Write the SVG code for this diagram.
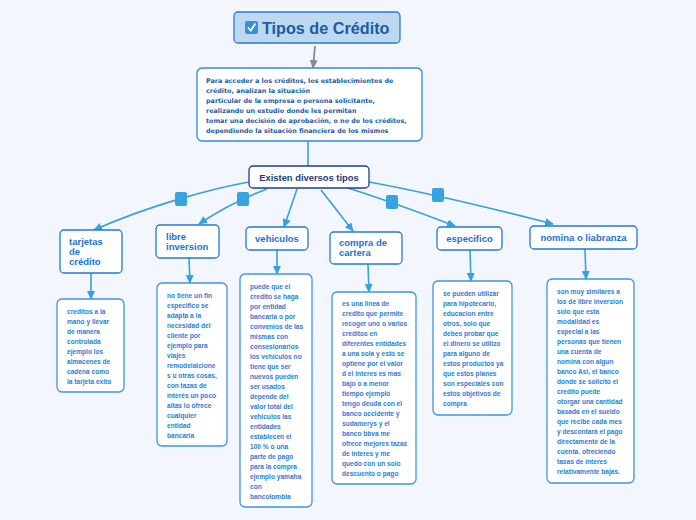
<svg xmlns="http://www.w3.org/2000/svg" width="696" height="520" viewBox="0 0 696 520">
<defs>
<style>
text{font-family:"Liberation Sans",Arial,sans-serif;font-weight:bold}
.cat{fill:#fff;stroke:#1f7ad6;stroke-width:1.3}
.desc{fill:#fff;stroke:#3c95e2;stroke-width:1.3}
.catt{font-size:9.5px;fill:#1a72d6}
.dt{font-size:6.6px;fill:#2c7dd8}
.con{fill:none;stroke:#35a2de;stroke-width:1.6}
.sq{fill:#35a4e0}
</style>
<marker id="ah" markerWidth="9" markerHeight="8" refX="8" refY="4" orient="auto" markerUnits="userSpaceOnUse">
<path d="M0,0 L9,4 L0,8 z" fill="#35a2de"/>
</marker>
<marker id="ahg" markerWidth="9" markerHeight="8" refX="8" refY="4" orient="auto" markerUnits="userSpaceOnUse">
<path d="M0,0 L9,4 L0,8 z" fill="#8a8a8a"/>
</marker>
</defs>
<rect width="696" height="520" fill="#f3f6fd"/>

<g id="connectors">
<line x1="315" y1="46" x2="313" y2="68" stroke="#8a8a8a" stroke-width="1.8" marker-end="url(#ahg)"/>
<line x1="308" y1="141" x2="308" y2="166" class="con"/>
<path class="con" d="M249,182 C215,188 150,205 94,230" marker-end="url(#ah)"/>
<path class="con" d="M267,189 Q230,203 199,224" marker-end="url(#ah)"/>
<path class="con" d="M297,189 L284,227" marker-end="url(#ah)"/>
<path class="con" d="M321,190 L353,231" marker-end="url(#ah)"/>
<path class="con" d="M348,188 Q395,203 455,226" marker-end="url(#ah)"/>
<path class="con" d="M369,182 Q440,195 553,224" marker-end="url(#ah)"/>
<rect class="sq" x="175" y="192" width="12" height="14" rx="2"/>
<rect class="sq" x="237" y="192" width="12" height="14" rx="2"/>
<rect class="sq" x="386" y="195" width="12" height="14" rx="2"/>
<rect class="sq" x="432" y="188" width="12" height="14" rx="2"/>
<line class="con" x1="91" y1="273" x2="91" y2="299" marker-end="url(#ah)"/>
<line class="con" x1="189" y1="258" x2="190" y2="283" marker-end="url(#ah)"/>
<line class="con" x1="277" y1="250" x2="277" y2="274" marker-end="url(#ah)"/>
<line class="con" x1="368" y1="264" x2="369" y2="292" marker-end="url(#ah)"/>
<line class="con" x1="470" y1="250" x2="471" y2="281" marker-end="url(#ah)"/>
<line class="con" x1="585" y1="249" x2="586" y2="279" marker-end="url(#ah)"/>
</g>

<g id="title">
<rect x="234" y="12" width="166" height="31" rx="4" fill="#bdd9f1" stroke="#2b7bc4" stroke-width="1.3"/>
<rect x="245" y="21" width="13" height="13" rx="2" fill="#3b8fd9"/>
<polyline points="248,27.5 250.8,30.5 255.5,23.5" fill="none" stroke="#fff" stroke-width="1.8"/>
<text x="262" y="33.5" font-size="16.2" fill="#1b5ba6">Tipos de Crédito</text>
</g>

<g id="intro">
<rect x="197" y="68" width="225" height="73" rx="5" fill="#fff" stroke="#2b8ae2" stroke-width="1.3"/>
<text font-size="6.4" fill="#1c5ca8" style="font-family:'DejaVu Sans',Verdana,sans-serif">
<tspan x="206" y="83">Para acceder a los créditos, los establecimientos de</tspan>
<tspan x="206" y="93">crédito, analizan la situación</tspan>
<tspan x="206" y="103">particular de la empresa o persona solicitante,</tspan>
<tspan x="206" y="112.5">realizando un estudio donde les permitan</tspan>
<tspan x="206" y="122.5">tomar una decisión de aprobación, o no de los créditos,</tspan>
<tspan x="206" y="132.5">dependiendo la situación financiera de los mismos</tspan>
</text>
</g>

<g id="existen">
<rect x="249" y="166" width="120" height="22" rx="4" fill="#fff" stroke="#1d3f8a" stroke-width="1.3"/>
<text x="309" y="180.5" font-size="9.4" fill="#1e3a78" text-anchor="middle">Existen diversos tipos</text>
</g>

<g id="tarjetas">
<rect class="cat" x="60" y="230" width="62" height="43" rx="4"/>
<text class="catt"><tspan x="69" y="245">tarjetas</tspan><tspan x="69" y="255">de</tspan><tspan x="69" y="265">crédito</tspan></text>
</g>
<g id="tarjetas-desc">
<rect class="desc" x="57" y="299" width="67" height="93" rx="5"/>
<text class="dt"><tspan x="67" y="314">creditos a la</tspan><tspan x="67" dy="10">mano y llevar</tspan><tspan x="67" dy="10">de manera</tspan><tspan x="67" dy="10">controlada</tspan><tspan x="67" dy="10">ejemplo los</tspan><tspan x="67" dy="10">almacenes de</tspan><tspan x="67" dy="10">cadena como</tspan><tspan x="67" dy="10">la tarjeta exito</tspan></text>
</g>

<g id="libre">
<rect class="cat" x="156" y="225" width="63" height="33" rx="4"/>
<text class="catt"><tspan x="166" y="240">libre</tspan><tspan x="166" y="250">inversion</tspan></text>
</g>
<g id="libre-desc">
<rect class="desc" x="157" y="283" width="70" height="163" rx="5"/>
<text class="dt"><tspan x="167" y="298">no tiene un fin</tspan><tspan x="167" dy="10">especifico se</tspan><tspan x="167" dy="10">adapta a la</tspan><tspan x="167" dy="10">necesidad del</tspan><tspan x="167" dy="10">cliente  por</tspan><tspan x="167" dy="10">ejemplo para</tspan><tspan x="167" dy="10">viajes</tspan><tspan x="167" dy="10">remodelalcione</tspan><tspan x="167" dy="10">s u otras cosas,</tspan><tspan x="167" dy="10">con tazas de</tspan><tspan x="167" dy="10">interés un poco</tspan><tspan x="167" dy="10">altas lo ofrece</tspan><tspan x="167" dy="10">cualquier</tspan><tspan x="167" dy="10">entidad</tspan><tspan x="167" dy="10">bancaria</tspan></text>
</g>

<g id="vehiculos">
<rect class="cat" x="246" y="227" width="62" height="23" rx="4"/>
<text class="catt" x="277" y="242" text-anchor="middle">vehiculos</text>
</g>
<g id="vehiculos-desc">
<rect class="desc" x="240" y="274" width="72" height="233" rx="5"/>
<text class="dt"><tspan x="250" y="289">puede que el</tspan><tspan x="250" dy="10">credito se haga</tspan><tspan x="250" dy="10">por entidad</tspan><tspan x="250" dy="10">bancaria o por</tspan><tspan x="250" dy="10">convenios de las</tspan><tspan x="250" dy="10">mismas con</tspan><tspan x="250" dy="10">consesionarios</tspan><tspan x="250" dy="10">los vehiculos no</tspan><tspan x="250" dy="10">tiene que ser</tspan><tspan x="250" dy="10">nuevos pueden</tspan><tspan x="250" dy="10">ser usados</tspan><tspan x="250" dy="10">depende del</tspan><tspan x="250" dy="10">valor total del</tspan><tspan x="250" dy="10">vehiculos las</tspan><tspan x="250" dy="10">entidades</tspan><tspan x="250" dy="10">establecen el</tspan><tspan x="250" dy="10">100 % o una</tspan><tspan x="250" dy="10">parte de pago</tspan><tspan x="250" dy="10">para la compra</tspan><tspan x="250" dy="10">ejemplo yamaha</tspan><tspan x="250" dy="10">con</tspan><tspan x="250" dy="10">bancolombia</tspan></text>
</g>

<g id="compra">
<rect class="cat" x="330" y="232" width="72" height="32" rx="4"/>
<text class="catt"><tspan x="339" y="246">compra de</tspan><tspan x="339" y="256">cartera</tspan></text>
</g>
<g id="compra-desc">
<rect class="desc" x="332" y="292" width="84" height="192" rx="5"/>
<text class="dt"><tspan x="342" y="306">es una linea de</tspan><tspan x="342" dy="10">credito que permite</tspan><tspan x="342" dy="10">recoger uno o varios</tspan><tspan x="342" dy="10">creditos en</tspan><tspan x="342" dy="10">diferentes entidades</tspan><tspan x="342" dy="10">a una sola  y esto se</tspan><tspan x="342" dy="10">optiene por el valor</tspan><tspan x="342" dy="10">d el interes es mas</tspan><tspan x="342" dy="10">bajo o a menor</tspan><tspan x="342" dy="10">tiempo ejemplo</tspan><tspan x="342" dy="10">tengo deuda con el</tspan><tspan x="342" dy="10">banco occidente y</tspan><tspan x="342" dy="10">sudamerys y el</tspan><tspan x="342" dy="10">banco bbva me</tspan><tspan x="342" dy="10">ofrece mejores tazas</tspan><tspan x="342" dy="10">de interes y me</tspan><tspan x="342" dy="10">quedo con un solo</tspan><tspan x="342" dy="10">descuento o pago</tspan></text>
</g>

<g id="especifico">
<rect class="cat" x="437" y="227" width="65" height="23" rx="4"/>
<text class="catt" x="469.5" y="242" text-anchor="middle">especifico</text>
</g>
<g id="especifico-desc">
<rect class="desc" x="433" y="281" width="79" height="134" rx="5"/>
<text class="dt"><tspan x="443" y="296">se pueden utilizar</tspan><tspan x="443" dy="10">para hipotecario,</tspan><tspan x="443" dy="10">educacion entre</tspan><tspan x="443" dy="10">otros, solo que</tspan><tspan x="443" dy="10">debes probar que</tspan><tspan x="443" dy="10">el dinero se utilizo</tspan><tspan x="443" dy="10">para alguno de</tspan><tspan x="443" dy="10">estos productos ya</tspan><tspan x="443" dy="10">que estos planes</tspan><tspan x="443" dy="10">son especiales con</tspan><tspan x="443" dy="10">estos objetivos de</tspan><tspan x="443" dy="10">compra</tspan></text>
</g>

<g id="nomina">
<rect class="cat" x="530" y="226" width="107" height="23" rx="4"/>
<text class="catt" x="583.5" y="241" text-anchor="middle">nomina o liabranza</text>
</g>
<g id="nomina-desc">
<rect class="desc" x="547" y="279" width="87" height="204" rx="5"/>
<text class="dt"><tspan x="557" y="294">son muy similares a</tspan><tspan x="557" dy="10">los de libre inversion</tspan><tspan x="557" dy="10">solo que esta</tspan><tspan x="557" dy="10">modalidad es</tspan><tspan x="557" dy="10">especial a las</tspan><tspan x="557" dy="10">personas que tienen</tspan><tspan x="557" dy="10">una cuenta de</tspan><tspan x="557" dy="10">nomina con algun</tspan><tspan x="557" dy="10">banco Asi, el banco</tspan><tspan x="557" dy="10">donde se solicito el</tspan><tspan x="557" dy="10">credito  puede</tspan><tspan x="557" dy="10">otorgar una cantidad</tspan><tspan x="557" dy="10">basada en el sueldo</tspan><tspan x="557" dy="10">que recibe cada mes</tspan><tspan x="557" dy="10">y descontará el pago</tspan><tspan x="557" dy="10">directamente de la</tspan><tspan x="557" dy="10">cuenta. ofreciendo</tspan><tspan x="557" dy="10">tasas de interes</tspan><tspan x="557" dy="10">relativamente bajas.</tspan></text>
</g>
</svg>
